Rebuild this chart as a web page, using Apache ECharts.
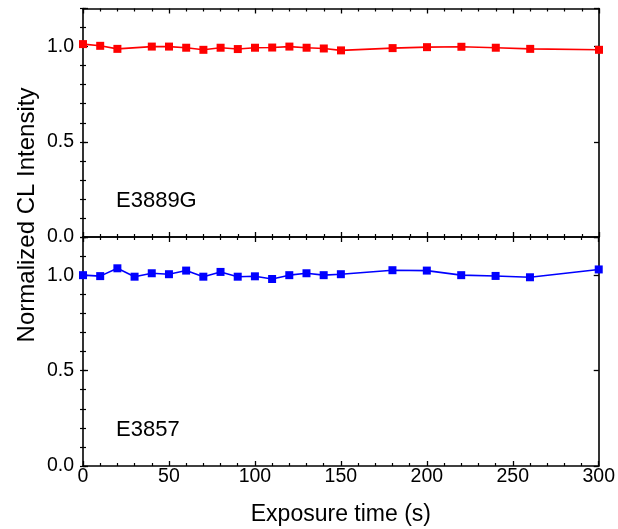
<!DOCTYPE html>
<html>
<head>
<meta charset="utf-8">
<script src="https://cdn.jsdelivr.net/npm/echarts@6/dist/echarts.min.js"></script>
<style>
html,body{margin:0;padding:0;background:#fff;}
#main{width:618px;height:529px;}
</style>
</head>
<body>
<div id="main"></div>
<script>
// ---- data ----
const xTop = [0, 10, 20, 40, 50, 60, 70, 80, 90, 100, 110, 120, 130, 140, 150, 180, 200, 220, 240, 260, 300];
const yTop = [1.013, 1.004, 0.988, 1.0, 1.0, 0.994, 0.983, 0.994, 0.987, 0.994, 0.995, 1.0, 0.994, 0.99, 0.98, 0.992, 0.997, 0.999, 0.994, 0.988, 0.983];
const xBottom = [0, 10, 20, 30, 40, 50, 60, 70, 80, 90, 100, 110, 120, 130, 140, 150, 180, 200, 220, 240, 260, 300];
const yBottom = [1.0, 0.995, 1.036, 0.992, 1.01, 1.005, 1.024, 0.992, 1.017, 0.992, 0.994, 0.98, 1.0, 1.01, 1.0, 1.005, 1.026, 1.024, 1.0, 0.996, 0.989, 1.03];
const topLabel = 'E3889G';
const bottomLabel = 'E3857';
const xTickValues = [0, 50, 100, 150, 200, 250, 300];
const xTickLabels = ['0', '50', '100', '150', '200', '250', '300'];
const yTickValues = [0, 0.5, 1.0];
const yTickLabels = ['0.0', '0.5', '1.0'];
const xName = 'Exposure time (s)';
const yName = 'Normalized CL Intensity';

// ---- chart ----
const FONT = '"Liberation Sans", Arial, sans-serif';
const chart = echarts.init(document.getElementById('main'), null, {renderer: 'canvas'});

function fmt(values, labels) {
  return function (v) {
    const i = values.findIndex(t => Math.abs(t - v) < 1e-6);
    return i >= 0 ? labels[i] : '';
  };
}
const axisLine = {show: true, onZero: false, lineStyle: {color: '#000', width: 1.6}};

const grids = [
  {left: 83, right: 19, top: 8.5, height: 228.5},
  {left: 83, right: 19, top: 237, height: 229}
];

const xAxes = [];
const yAxes = [];
[0, 1].forEach(g => {
  ['bottom', 'top'].forEach(pos => {
    const labelled = (g === 1 && pos === 'bottom');
    xAxes.push({
      type: 'value', gridIndex: g, position: pos, min: 0, max: 300, interval: 50,
      axisLine: axisLine,
      axisTick: {show: true, inside: true, length: 5, lineStyle: {color: '#000', width: 1.3}},
      minorTick: {show: true, splitNumber: 5, length: 3, lineStyle: {color: '#000', width: 1.2}},
      splitLine: {show: false},
      axisLabel: {show: labelled, margin: 1, color: '#000', fontSize: 19.5, fontFamily: FONT,
        formatter: fmt(xTickValues, xTickLabels)},
      name: labelled ? xName : '',
      nameLocation: 'middle', nameGap: 37,
      nameTextStyle: {color: '#000', fontSize: 23, fontFamily: FONT}
    });
  });
  ['left', 'right'].forEach(pos => {
    // major ticks
    yAxes.push({
      type: 'value', gridIndex: g, position: pos, min: 0, max: 1.2, interval: 0.5,
      axisLine: axisLine,
      axisTick: {show: true, inside: true, length: 5, lineStyle: {color: '#000', width: 1.3}},
      splitLine: {show: false},
      axisLabel: {show: pos === 'left', margin: 9, color: '#000', fontSize: 19.5, fontFamily: FONT,
        formatter: fmt(yTickValues, yTickLabels)}
    });
    // minor ticks
    yAxes.push({
      type: 'value', gridIndex: g, position: pos, min: 0, max: 1.2, interval: 0.1,
      axisLine: {show: false},
      axisTick: {show: true, inside: true, length: 3, lineStyle: {color: '#000', width: 1.2}},
      splitLine: {show: false},
      axisLabel: {show: false}
    });
  });
});

const series = [
  {
    type: 'line', xAxisIndex: 0, yAxisIndex: 0,
    data: xTop.map((x, i) => [x, yTop[i]]),
    symbol: 'rect', symbolSize: 8,
    itemStyle: {color: '#ff0000'},
    lineStyle: {color: '#ff0000', width: 1.6},
    emphasis: {disabled: true}, animation: false
  },
  {
    type: 'line', xAxisIndex: 2, yAxisIndex: 4,
    data: xBottom.map((x, i) => [x, yBottom[i]]),
    symbol: 'rect', symbolSize: 8,
    itemStyle: {color: '#0000ff'},
    lineStyle: {color: '#0000ff', width: 1.6},
    emphasis: {disabled: true}, animation: false
  }
];

chart.setOption({
  animation: false,
  backgroundColor: '#fff',
  grid: grids,
  xAxis: xAxes,
  yAxis: yAxes,
  series: series,
  graphic: [
    {type: 'text', left: 116, top: 190, style: {text: topLabel, fill: '#000', fontSize: 22, fontFamily: FONT}},
    {type: 'text', left: 116, top: 419, style: {text: bottomLabel, fill: '#000', fontSize: 22, fontFamily: FONT}},
    {type: 'text', x: 27, y: 215, rotation: Math.PI / 2,
      style: {text: yName, fill: '#000', fontSize: 24, fontFamily: FONT, align: 'center', verticalAlign: 'middle'}}
  ]
});
</script>
</body>
</html>
